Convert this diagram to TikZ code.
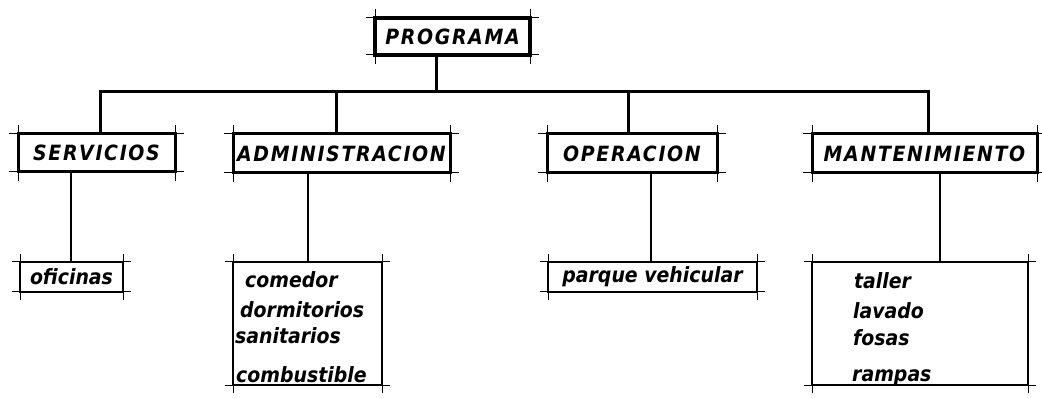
\documentclass[tikz,border=0pt]{standalone}
\usepackage{fontspec}
\newfontfamily\capslett[LetterSpace=8]{DejaVu Sans Condensed}
\newfontfamily\lowlett{DejaVu Sans Condensed}
\begin{document}
\begin{tikzpicture}[x=1pt,y=-1pt,
  lett/.style={font=\capslett\bfseries\itshape\fontsize{21}{24}\selectfont},
  low/.style={font=\lowlett\bfseries\itshape\fontsize{21}{24}\selectfont},
  box/.style={draw, rectangle, line width=3pt, inner sep=0pt, outer sep=0pt, lett},
  sub/.style={box, line width=2pt, low},
  item/.style={low, anchor=west, inner sep=0pt},
  conn/.style={line width=3pt},
  conn2/.style={line width=2pt},
  tick/.style={line width=1pt}]
\useasboundingbox (0,0) rectangle (1042,398);
\newcommand\drafttick[2]{%
  \draw[tick] ([xshift=-#2]#1.north west) -- ([xshift=#2]#1.north east);
  \draw[tick] ([xshift=-#2]#1.south west) -- ([xshift=#2]#1.south east);
  \draw[tick] ([yshift=#2]#1.north west) -- ([yshift=-#2]#1.south west);
  \draw[tick] ([yshift=#2]#1.north east) -- ([yshift=-#2]#1.south east);}
% boxes
\node[box, line width=4pt, minimum width=155pt, minimum height=37pt] (prog) at (452.5,36.5) {PROGRAMA};
\node[box, minimum width=157pt, minimum height=38pt] (serv) at (96.5,153) {SERVICIOS};
\node[box, minimum width=217pt, minimum height=39pt] (admin) at (341.5,153.5) {ADMINISTRACION};
\node[box, minimum width=170pt, minimum height=39pt] (oper) at (632,153.5) {OPERACION};
\node[box, minimum width=225pt, minimum height=39pt] (mant) at (924.5,153.5) {MANTENIMIENTO};
\node[sub, minimum width=103pt, minimum height=30pt] (ofic) at (71.5,277) {oficinas};
\node[sub, line width=1.5pt, minimum width=149pt, minimum height=123pt] (alist) at (307.5,323.5) {};
\node[sub, minimum width=209pt, minimum height=30pt] (parq) at (652.5,277) {parque vehicular};
\node[sub, line width=1.5pt, minimum width=216pt, minimum height=123pt] (mlist) at (920,323.5) {};
% list items
\node[item] (i1) at (245,280) {comedor};
\node[item] (i2) at (240,310) {dormitorios};
\node[item] (i3) at (235,336) {sanitarios};
\node[item] (i4) at (236,375) {combustible};
\node[item] (j1) at (854,281) {taller};
\node[item] (j2) at (853,311) {lavado};
\node[item] (j3) at (853,338) {fosas};
\node[item] (j4) at (852,378) {rampas};
% drafting ticks
\drafttick{prog}{9pt}
\drafttick{serv}{9pt}
\drafttick{admin}{9pt}
\drafttick{oper}{9pt}
\drafttick{mant}{9pt}
\drafttick{ofic}{8pt}
\drafttick{alist}{8pt}
\drafttick{parq}{8pt}
\drafttick{mlist}{8pt}
% connectors
\coordinate (b0) at (436,92);
\coordinate (b1) at (100,92);
\coordinate (b2) at (336,92);
\coordinate (b3) at (628,92);
\coordinate (b4) at (928,92);
\coordinate (l1) at (71,0);
\coordinate (l2) at (308,0);
\coordinate (l3) at (651,0);
\coordinate (l4) at (940,0);
\draw[conn] (prog.south -| b0) -- (b0);
\draw[conn, line cap=rect] (b1) -- (b4);
\draw[conn] (b1) -- (serv.north -| b1);
\draw[conn] (b2) -- (admin.north -| b2);
\draw[conn] (b3) -- (oper.north -| b3);
\draw[conn] (b4) -- (mant.north -| b4);
\draw[conn2] (serv.south -| l1) -- (ofic.north -| l1);
\draw[conn2] (admin.south -| l2) -- (alist.north -| l2);
\draw[conn2] (oper.south -| l3) -- (parq.north -| l3);
\draw[conn2] (mant.south -| l4) -- (mlist.north -| l4);
\end{tikzpicture}
\end{document}
